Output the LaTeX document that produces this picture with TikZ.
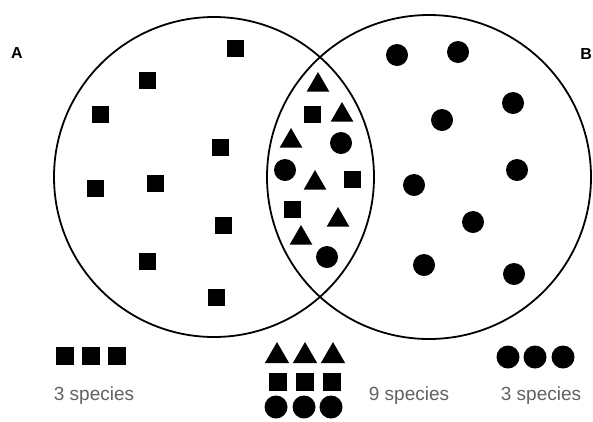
\documentclass[tikz,border=0pt]{standalone}
\usepackage{fontspec}
\setmainfont{Liberation Sans}
\usetikzlibrary{shapes.geometric}
\begin{document}
\begin{tikzpicture}[x=1pt,y=-1pt,
  setring/.style={draw=black, circle, line width=1.8pt, inner sep=0pt},
  sq/.style={rectangle, fill=black, minimum size=17pt, inner sep=0pt},
  dot/.style={circle, fill=black, minimum size=22pt, inner sep=0pt},
  tri/.style={regular polygon, regular polygon sides=3, fill=black, minimum size=26pt, inner sep=0pt},
  lsq/.style={rectangle, fill=black, minimum size=18pt, inner sep=0pt},
  ldot/.style={circle, fill=black, minimum size=23pt, inner sep=0pt},
  ltri/.style={regular polygon, regular polygon sides=3, fill=black, minimum size=28pt, inner sep=0pt},
  setname/.style={font=\bfseries\fontsize{16}{16}\selectfont, inner sep=0pt},
  count/.style={text=black!62, font=\fontsize{19}{20}\selectfont, inner sep=0pt}]
\useasboundingbox (0,0) rectangle (593,421);
% set circles
\node[setring, minimum size=320pt] (setA) at (214,177) {};
\node[setring, minimum size=324pt] (setB) at (429,177) {};
\node[setname] (labA) at (17,53) {A};
\node[setname, anchor=east] (labB) at (592,54) {B};
% A only: squares
\node[sq] (a1) at (235,48) {};
\node[sq] (a2) at (147,80) {};
\node[sq] (a3) at (100,114) {};
\node[sq] (a4) at (220,147) {};
\node[sq] (a5) at (95,188) {};
\node[sq] (a6) at (155,183) {};
\node[sq] (a7) at (223,225) {};
\node[sq] (a8) at (147,261) {};
\node[sq] (a9) at (216,297) {};
% B only: circles
\node[dot] (b1) at (397,55) {};
\node[dot] (b2) at (458,52) {};
\node[dot] (b3) at (513,103) {};
\node[dot] (b4) at (442,120) {};
\node[dot] (b5) at (517,170) {};
\node[dot] (b6) at (414,185) {};
\node[dot] (b7) at (473,222) {};
\node[dot] (b8) at (424,265) {};
\node[dot] (b9) at (514,274) {};
% intersection
\node[tri] (i1) at (318,85) {};
\node[sq] (i2) at (312,114) {};
\node[tri] (i3) at (342,115) {};
\node[tri] (i4) at (291,141) {};
\node[dot] (i5) at (341,143) {};
\node[dot] (i6) at (285,170) {};
\node[tri] (i7) at (315,183) {};
\node[sq] (i8) at (352,179) {};
\node[sq] (i9) at (292,209) {};
\node[tri] (i10) at (338,220) {};
\node[tri] (i11) at (301,238) {};
\node[dot] (i12) at (327,257) {};
% legend left
\node[lsq] (la1) at (65,356) {};
\node[lsq] (la2) at (91,356) {};
\node[lsq] (la3) at (117,356) {};
\node[count] (ta) at (94,396) {3 species};
% legend middle
\node[ltri] (lm1) at (277,356) {};
\node[ltri] (lm2) at (305,356) {};
\node[ltri] (lm3) at (333,356) {};
\node[lsq] (lm4) at (278,382) {};
\node[lsq] (lm5) at (305,382) {};
\node[lsq] (lm6) at (332,382) {};
\node[ldot] (lm7) at (276,407) {};
\node[ldot] (lm8) at (304,407) {};
\node[ldot] (lm9) at (331,407) {};
\node[count] (tm) at (409,396) {9 species};
% legend right
\node[ldot] (lb1) at (508,357) {};
\node[ldot] (lb2) at (535,357) {};
\node[ldot] (lb3) at (563,357) {};
\node[count] (tb) at (541,396) {3 species};
\end{tikzpicture}
\end{document}
